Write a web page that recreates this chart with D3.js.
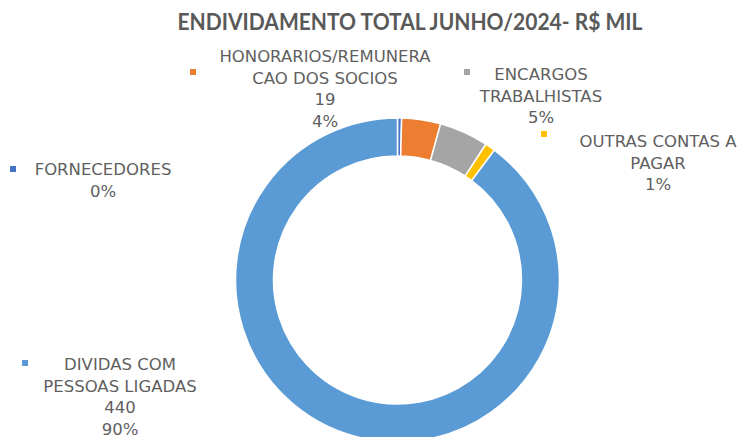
<!DOCTYPE html>
<html>
<head>
<meta charset="utf-8">
<script src="https://cdn.jsdelivr.net/npm/d3@7"></script>
<style>
  html, body { margin: 0; padding: 0; background: #fff; }
  svg { display: block; }
</style>
</head>
<body>
<div id="chart"></div>
<script>
// data (R$ mil)
var categories = ["FORNECEDORES", "HONORARIOS/REMUNERACAO DOS SOCIOS", "ENCARGOS TRABALHISTAS", "OUTRAS CONTAS A PAGAR", "DIVIDAS COM PESSOAS LIGADAS"];
var values = [2, 19, 24, 5, 440];
var labelLines = [["FORNECEDORES"], ["HONORARIOS/REMUNERA", "CAO DOS SOCIOS"], ["ENCARGOS", "TRABALHISTAS"], ["OUTRAS CONTAS A", "PAGAR"], ["DIVIDAS COM", "PESSOAS LIGADAS"]];
var showValue = [false, true, false, false, true];
var colors = ["#4472C4", "#ED7D31", "#A5A5A5", "#FFC000", "#5B9BD5"];
var title = "ENDIVIDAMENTO TOTAL JUNHO/2024- R$ MIL";

// where excel left the labels (text center x, first baseline y, marker x/y)
var labelPos = [
	{ x: 103, y: 175, mx: 13, my: 169 },
	{ x: 325, y: 62, mx: 193, my: 72 },
	{ x: 541, y: 80, mx: 467, my: 72 },
	{ x: 658, y: 147, mx: 544, my: 134 },
	{ x: 120, y: 370, mx: 25, my: 363 }
];

var width = 743, height = 437;
var cx = 397.5, cy = 280, outerR = 162, innerR = 124;
var lineH = 21.5;

var svg = d3.select("#chart").append("svg")
	.attr("width", width)
	.attr("height", height);

svg.append("text")
	.attr("x", 410)
	.attr("y", 29.5)
	.attr("text-anchor", "middle")
	.attr("textLength", 465)
	.attr("lengthAdjust", "spacingAndGlyphs")
	.style("font-family", "Lato, 'Open Sans', sans-serif")
	.style("font-weight", "bold")
	.style("font-size", "23px")
	.style("fill", "#595959")
	.text(title);

var color = d3.scaleOrdinal().domain(categories).range(colors);

var pie = d3.pie()
	.sort(null)
	.value(function (d, i) { return values[i]; });

var arc = d3.arc()
	.innerRadius(innerR)
	.outerRadius(outerR);

var total = d3.sum(values);
var pct = d3.format(".0%");

var g = svg.append("g")
	.attr("transform", "translate(" + cx + "," + cy + ")");

g.selectAll("path")
	.data(pie(categories))
	.enter().append("path")
	.attr("d", arc)
	.attr("fill", function (d) { return color(d.data); })
	.attr("stroke", "#fff")
	.attr("stroke-width", 1.5);

// data labels
categories.forEach(function (c, i) {
	var p = labelPos[i];
	var lines = labelLines[i].slice();
	if (showValue[i]) lines.push(String(values[i]));
	lines.push(pct(values[i] / total));

	svg.append("rect")
		.attr("x", p.mx - 3)
		.attr("y", p.my - 3)
		.attr("width", 6)
		.attr("height", 6)
		.attr("fill", color(c));

	var t = svg.append("text")
		.attr("text-anchor", "middle")
		.style("font-family", "'Century Gothic', 'DejaVu Sans', sans-serif")
		.style("font-size", "16.5px")
		.style("fill", "#5f5f5f");

	lines.forEach(function (l, j) {
		t.append("tspan")
			.attr("x", p.x)
			.attr("y", p.y + j * lineH)
			.text(l);
	});
});
</script>
</body>
</html>
